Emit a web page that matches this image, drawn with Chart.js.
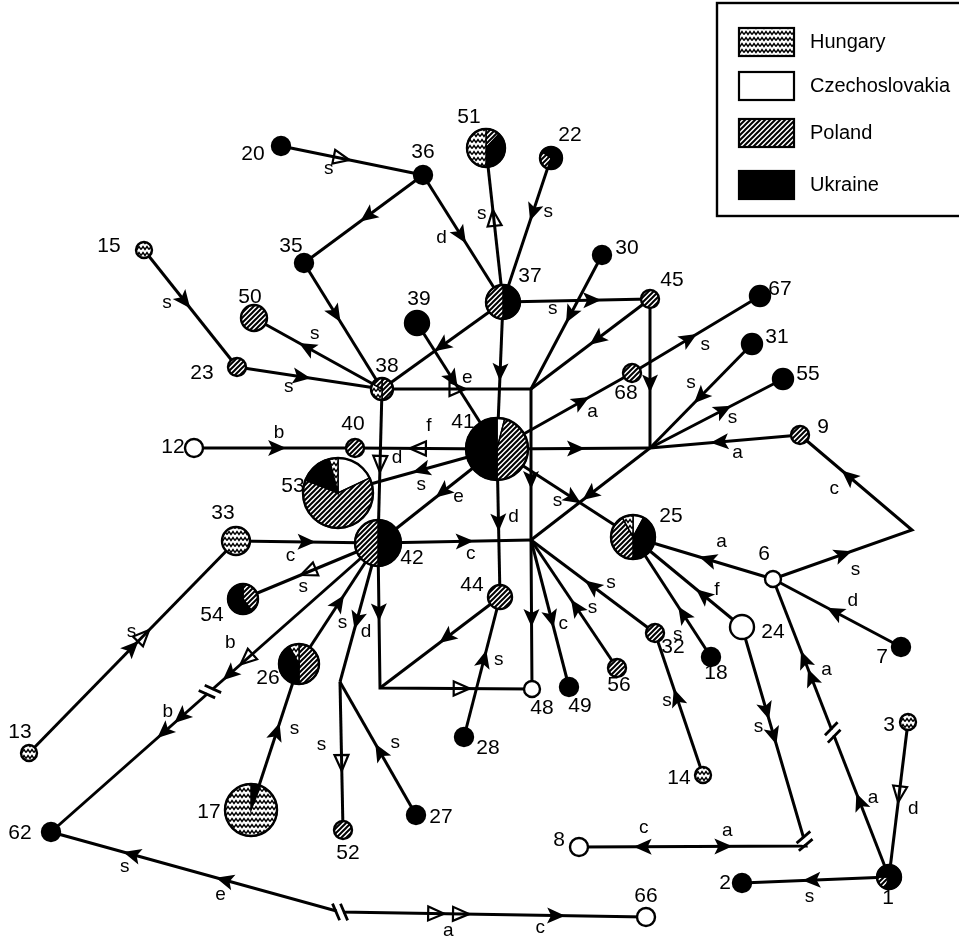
<!DOCTYPE html>
<html>
<head>
<meta charset="utf-8">
<script src="https://cdn.jsdelivr.net/npm/chart.js@4.4.1/dist/chart.umd.min.js"></script>
<style>
  html, body { margin: 0; padding: 0; background: #fff; }
  #wrap { width: 959px; height: 937px; position: relative; }
</style>
</head>
<body>
<div id="wrap"><canvas id="net"></canvas></div>
<script>
// countries shown in the legend, with the code used in nodeMix
const countries = ["Hungary", "Czechoslovakia", "Poland", "Ukraine"];
const countryCode = ["H", "C", "P", "U"];

// haplotype nodes
const nodeIds = ["1","2","3","6","7","8","9","12","13","14","15","17","18","20","22","23","24","25","26","27","28","30","31","32","33","35","36","37","38","39","40","41","42","44","45","48","49","50","51","52","53","54","55","56","62","66","67","68"];
const nodeX = [889,742,908,773,901,579,800,194,29,703,144,251,711,281,551,237,742,633,299,416,464,602,752,655,236,304,423,503,382,417,355,497,378,500,650,532,569,254,486,343,338,243,783,617,51,646,760,632];
const nodeY = [877,883,722,579,647,847,435,448,753,775,250,810,657,146,158,367,627,537,664,815,737,255,344,633,541,263,175,302,389,323,448,449,543,597,299,689,687,318,148,830,493,599,379,668,832,917,296,373];
const nodeSize = [12,9,8,8,9,9,9,9,8,8,8,26,9,9,11,9,12,22,20,9,9,9,10,9,14,9,9,17,11,12,9,31,23,12,9,8,9,13,19,9,35,15,10,9,9,9,10,9];
// share of each country, clockwise from 12 o'clock
const nodeMix = ["U55 P20 U25","U","H","C","U","C","P","C","H","H","H","U6 H94","U","U","U55 P30 U15","P","C","C8 U42 P42 H8","P50 U42 H8","U","U","U","U","P","H","U","U","U50 P50","P50 H33 P17","U","P","C4 P46 U50","U50 P50","P","P","C","U","P","P12 U38 H50","P","C18 P63 U15 H4","P40 U60","U","P","U","C","U","P"];

// unlabelled branch points
const junctions = {
  T: [531, 389], J2: [650, 448], J3: [531, 540], BL: [380, 688],
  K: [340, 682], R: [912, 530], B8: [806, 846], B62: [340, 912]
};

// branches: arrows are [t along path, direction, kind, letter, dx, dy]
const edges = [
  { path: ["20","36"], arrows: [[0.42,1,"o","s",-12,11]] },
  { path: ["36","35"], arrows: [[0.46,1,"f"]] },
  { path: ["36","37"], arrows: [[0.47,1,"f","d",-19,3]] },
  { path: ["35","38"], arrows: [[0.40,1,"f"]] },
  { path: ["15","23"], arrows: [[0.43,1,"f","s",-17,2]] },
  { path: ["23","38"], arrows: [[0.44,1,"f","s",-12,10]] },
  { path: ["38","50"], arrows: [[0.58,1,"f","s",7,-14]] },
  { path: ["37","38"], arrows: [[0.50,1,"f"]] },
  { path: ["39","41"], arrows: [[0.44,1,"f","e",15,-1]] },
  { path: ["38","T"], arrows: [[0.50,1,"o"]] },
  { path: ["37","41"], arrows: [[0.47,1,"f"]] },
  { path: ["37","51"], arrows: [[0.54,1,"o","s",-12,-5]] },
  { path: ["22","37"], arrows: [[0.37,1,"f","s",15,0]] },
  { path: ["37","45"], arrows: [[0.60,1,"f"]] },
  { path: ["30","T"], arrows: [[0.44,1,"f","s",-18,-5]] },
  { path: ["45","T"], arrows: [[0.44,1,"f"]] },
  { path: ["45","J2"], arrows: [[0.56,1,"f"]] },
  { path: ["T","J3","48"], arrows: [[0.30,1,"f"],[0.76,1,"f"]] },
  { path: ["41","J2"], arrows: [[0.51,1,"f"]] },
  { path: ["41","40"], arrows: [[0.55,1,"o","f",10,-23]] },
  { path: ["12","40"], arrows: [[0.51,1,"f","b",3,-15]] },
  { path: ["38","42"], arrows: [[0.48,1,"o","d",17,-5]] },
  { path: ["41","53"], arrows: [[0.47,1,"f","s",-1,15]] },
  { path: ["41","42"], arrows: [[0.45,1,"f","e",15,5]] },
  { path: ["41","68","67"], arrows: [[0.315,1,"f","a",12,10],[0.725,1,"f","s",17,6]] },
  { path: ["31","J2"], arrows: [[0.50,1,"f","s",-10,-13]] },
  { path: ["J2","55"], arrows: [[0.545,1,"f","s",10,7]] },
  { path: ["9","J2"], arrows: [[0.53,1,"f","a",17,11]] },
  { path: ["J2","J3"], arrows: [[0.50,1,"f"]] },
  { path: ["41","25"], arrows: [[0.555,1,"f","s",-15,3]] },
  { path: ["33","42"], arrows: [[0.49,1,"f","c",-15,14]] },
  { path: ["42","J3"], arrows: [[0.56,1,"f","c",7,12]] },
  { path: ["41","44"], arrows: [[0.49,1,"f","d",15,-5]] },
  { path: ["42","BL","48"], arrows: [[0.23,1,"f"],[0.76,1,"o"]] },
  { path: ["44","BL"], arrows: [[0.44,1,"f"]] },
  { path: ["28","44"], arrows: [[0.55,1,"f","s",15,0]] },
  { path: ["J3","49"], arrows: [[0.53,1,"f","c",12,6]] },
  { path: ["56","J3"], arrows: [[0.47,1,"f","s",16,0]] },
  { path: ["32","J3"], arrows: [[0.50,1,"f","s",18,-4]] },
  { path: ["6","25"], arrows: [[0.46,1,"f","a",13,-18]] },
  { path: ["24","25"], arrows: [[0.35,1,"f","f",13,-6]] },
  { path: ["18","25"], arrows: [[0.35,1,"f","s",-6,20]] },
  { path: ["14","32"], arrows: [[0.54,1,"f","s",-10,2]] },
  { path: ["7","6"], arrows: [[0.51,1,"f","d",17,-12]] },
  { path: ["6","R","9"], arrows: [[0.25,1,"f","s",13,15],[0.78,1,"f","c",-15,12]] },
  { path: ["1","6"], arrows: [[0.25,1,"f","a",13,-5],[0.667,1,"f","a",15,-8],[0.727,1,"f"]], breaks: [0.485] },
  { path: ["1","2"], arrows: [[0.52,1,"f","s",-3,17]] },
  { path: ["3","1"], arrows: [[0.46,1,"o","d",14,15]] },
  { path: ["24","B8","8"], arrows: [[0.19,1,"f"],[0.247,1,"f","s",-15,-8],[0.685,-1,"f","a",5,-16],[0.858,1,"f","c",0,-19]], breaks: [0.49] },
  { path: ["42","54"], arrows: [[0.51,1,"o","s",-6,15]] },
  { path: ["42","62"], arrows: [[0.40,1,"o","b",-17,-16],[0.452,1,"f"],[0.60,1,"f","b",-14,-5],[0.652,1,"f"]], breaks: [0.514] },
  { path: ["26","42"], arrows: [[0.50,1,"f","s",4,19]] },
  { path: ["42","K"], arrows: [[0.55,1,"f","d",9,12]] },
  { path: ["K","52"], arrows: [[0.54,1,"o","s",-20,-17]] },
  { path: ["27","K"], arrows: [[0.47,1,"f","s",15,-10]] },
  { path: ["17","26"], arrows: [[0.53,1,"f","s",18,-4]] },
  { path: ["13","33"], arrows: [[0.495,1,"f","s",0,-16],[0.55,1,"o"]] },
  { path: ["62","B62","66"], arrows: [[0.14,-1,"f","s",-8,12],[0.299,-1,"f","e",-5,14],[0.652,1,"o","a",13,17],[0.693,1,"o"],[0.85,1,"f","c",-15,12]], breaks: [0.495] }
];

// where each node number sits relative to its circle
const labelOffsets = {
  "1":[-1,21],"2":[-17,0],"3":[-19,3],"6":[-9,-25],"7":[-19,10],"8":[-20,-7],"9":[23,-8],"12":[-21,-1],
  "13":[-9,-21],"14":[-24,3],"15":[-35,-4],"17":[-42,2],"18":[5,16],"20":[-28,8],"22":[19,-23],"23":[-35,6],
  "24":[31,5],"25":[38,-21],"26":[-31,14],"27":[25,2],"28":[24,11],"30":[25,-7],"31":[25,-7],"32":[18,14],
  "33":[-13,-28],"35":[-13,-17],"36":[0,-23],"37":[27,-26],"38":[5,-23],"39":[2,-24],"40":[-2,-24],"41":[-34,-27],
  "42":[34,15],"44":[-28,-12],"45":[22,-19],"48":[10,19],"49":[11,19],"50":[-4,-21],"51":[-17,-31],"52":[5,23],
  "53":[-45,-7],"54":[-31,16],"55":[25,-5],"56":[2,17],"62":[-31,1],"66":[0,-21],"67":[20,-7],"68":[-6,20]
};

const FONT = '"Liberation Sans", Arial, sans-serif';

function pos(id) {
  const i = nodeIds.indexOf(id);
  return i >= 0 ? [nodeX[i], nodeY[i]] : junctions[id];
}

function parseMix(s) {
  return s.split(" ").map(function (p) {
    return [p[0], p.length > 1 ? Number(p.slice(1)) / 100 : 1];
  });
}

function patternCanvas(code) {
  const c = document.createElement("canvas");
  const g = c.getContext("2d");
  if (code === "P") {
    c.width = 5; c.height = 5;
    g.fillStyle = "#fff"; g.fillRect(0, 0, 5, 5);
    g.strokeStyle = "#000"; g.lineWidth = 2;
    g.beginPath();
    g.moveTo(-1, 6); g.lineTo(6, -1);
    g.moveTo(-1, 1); g.lineTo(1, -1);
    g.moveTo(4, 6); g.lineTo(6, 4);
    g.stroke();
  } else {
    c.width = 8; c.height = 6;
    g.fillStyle = "#fff"; g.fillRect(0, 0, 8, 6);
    g.strokeStyle = "#000"; g.lineWidth = 1.4;
    g.beginPath();
    g.moveTo(0, 4.5); g.lineTo(2, 1.5); g.lineTo(4, 4.5); g.lineTo(6, 1.5); g.lineTo(8, 4.5);
    g.stroke();
  }
  return c;
}
const patterns = { P: patternCanvas("P"), H: patternCanvas("H") };

function fillFor(g, code) {
  if (code === "U") return "#000";
  if (code === "C") return "#fff";
  return g.createPattern(patterns[code], "repeat");
}

// each node is a small pie drawn to a canvas and used as the point style
function nodeImage(r, mix) {
  const s = Math.ceil(2 * r + 6);
  const c = document.createElement("canvas");
  c.width = s; c.height = s;
  const g = c.getContext("2d");
  const m = s / 2;
  let a = -Math.PI / 2;
  mix.forEach(function (part) {
    const b = a + part[1] * 2 * Math.PI;
    g.beginPath();
    g.moveTo(m, m);
    g.arc(m, m, r, a, b);
    g.closePath();
    g.fillStyle = fillFor(g, part[0]);
    g.fill();
    if (mix.length > 1) {
      g.strokeStyle = "#000"; g.lineWidth = 1.5; g.stroke();
    }
    a = b;
  });
  g.beginPath();
  g.arc(m, m, r, 0, 2 * Math.PI);
  g.strokeStyle = "#000"; g.lineWidth = 2.4;
  g.stroke();
  return c;
}

const nodeImages = nodeIds.map(function (id, i) {
  return nodeImage(nodeSize[i], parseMix(nodeMix[i]));
});

function toPixels(chart, path) {
  const xs = chart.scales.x, ys = chart.scales.y;
  return path.map(function (id) {
    const p = pos(id);
    return { x: xs.getPixelForValue(p[0]), y: ys.getPixelForValue(p[1]) };
  });
}

function along(pts, t) {
  const seg = [];
  let total = 0;
  for (let i = 1; i < pts.length; i++) {
    const d = Math.hypot(pts[i].x - pts[i - 1].x, pts[i].y - pts[i - 1].y);
    seg.push(d); total += d;
  }
  let s = t * total;
  for (let i = 0; i < seg.length; i++) {
    if (s <= seg[i] || i === seg.length - 1) {
      const a = pts[i], b = pts[i + 1], f = s / seg[i];
      return { x: a.x + (b.x - a.x) * f, y: a.y + (b.y - a.y) * f, ang: Math.atan2(b.y - a.y, b.x - a.x) };
    }
    s -= seg[i];
  }
}

function drawArrow(ctx, p, dir, kind) {
  const ang = dir > 0 ? p.ang : p.ang + Math.PI;
  ctx.save();
  ctx.translate(p.x, p.y);
  ctx.rotate(ang);
  ctx.beginPath();
  if (kind === "o") {
    ctx.moveTo(9, 0); ctx.lineTo(-7, -7); ctx.lineTo(-7, 7); ctx.closePath();
    ctx.strokeStyle = "#000"; ctx.lineWidth = 2.2; ctx.lineJoin = "miter";
    ctx.stroke();
  } else {
    ctx.moveTo(10, 0); ctx.lineTo(-8, -8); ctx.lineTo(-4, 0); ctx.lineTo(-8, 8); ctx.closePath();
    ctx.fillStyle = "#000";
    ctx.fill();
  }
  ctx.restore();
}

function drawBreak(ctx, p) {
  const dx = Math.cos(p.ang), dy = Math.sin(p.ang);
  let tx = -dy + dx * 0.45, ty = dx + dy * 0.45;
  const n = Math.hypot(tx, ty); tx /= n; ty /= n;
  ctx.save();
  ctx.strokeStyle = "#fff"; ctx.lineWidth = 7; ctx.lineCap = "butt";
  ctx.beginPath();
  ctx.moveTo(p.x - dx * 3, p.y - dy * 3); ctx.lineTo(p.x + dx * 3, p.y + dy * 3);
  ctx.stroke();
  ctx.strokeStyle = "#000"; ctx.lineWidth = 2.8;
  ctx.beginPath();
  [-4, 4].forEach(function (o) {
    const cx = p.x + dx * o, cy = p.y + dy * o;
    ctx.moveTo(cx - tx * 9, cy - ty * 9); ctx.lineTo(cx + tx * 9, cy + ty * 9);
  });
  ctx.stroke();
  ctx.restore();
}

const decorPlugin = {
  id: "decor",
  afterDatasetsDraw: function (chart) {
    const ctx = chart.ctx;
    ctx.save();
    ctx.fillStyle = "#000";
    ctx.textAlign = "center";
    ctx.textBaseline = "middle";
    edges.forEach(function (e) {
      const pts = toPixels(chart, e.path);
      (e.breaks || []).forEach(function (t) { drawBreak(ctx, along(pts, t)); });
      e.arrows.forEach(function (a) {
        const p = along(pts, a[0]);
        drawArrow(ctx, p, a[1], a[2]);
        if (a[3]) {
          ctx.font = "19px " + FONT;
          ctx.fillStyle = "#000";
          ctx.fillText(a[3], p.x + a[4], p.y + a[5]);
        }
      });
    });
    // node numbers
    ctx.font = "21px " + FONT;
    const xs = chart.scales.x, ys = chart.scales.y;
    nodeIds.forEach(function (id, i) {
      const o = labelOffsets[id];
      ctx.fillText(id, xs.getPixelForValue(nodeX[i]) + o[0], ys.getPixelForValue(nodeY[i]) + o[1]);
    });
    ctx.restore();
  },
  afterDraw: function (chart) {
    const ctx = chart.ctx;
    ctx.save();
    ctx.strokeStyle = "#000";
    ctx.lineWidth = 2.4;
    ctx.fillStyle = "#fff";
    ctx.fillRect(717, 3, 260, 213);
    ctx.strokeRect(717, 3, 260, 213);
    const tops = [28, 72, 119, 171];
    countries.forEach(function (name, i) {
      ctx.fillStyle = fillFor(ctx, countryCode[i]);
      ctx.fillRect(739, tops[i], 55, 28);
      ctx.lineWidth = 2.2;
      ctx.strokeRect(739, tops[i], 55, 28);
      ctx.fillStyle = "#000";
      ctx.font = "20px " + FONT;
      ctx.textAlign = "left";
      ctx.textBaseline = "middle";
      ctx.fillText(name, 810, tops[i] + 14);
    });
    ctx.restore();
  }
};

const datasets = [{
  label: "haplotypes",
  data: nodeIds.map(function (id, i) { return { x: nodeX[i], y: nodeY[i] }; }),
  pointStyle: nodeImages,
  pointRadius: nodeSize,
  pointHoverRadius: nodeSize,
  showLine: false,
  clip: false,
  order: 0
}];
edges.forEach(function (e, k) {
  datasets.push({
    label: "branch " + k,
    data: e.path.map(function (id) { const p = pos(id); return { x: p[0], y: p[1] }; }),
    showLine: true,
    borderColor: "#000",
    borderWidth: 3,
    pointRadius: 0,
    pointHoverRadius: 0,
    tension: 0,
    fill: false,
    clip: false,
    order: 1
  });
});

new Chart(document.getElementById("net"), {
  type: "scatter",
  data: { datasets: datasets },
  options: {
    responsive: true,
    maintainAspectRatio: false,
    animation: false,
    devicePixelRatio: 1,
    layout: { padding: 0, autoPadding: false },
    plugins: { legend: { display: false }, tooltip: { enabled: false } },
    events: [],
    scales: {
      x: { type: "linear", min: 0, max: 959, display: false },
      y: { type: "linear", min: 0, max: 937, reverse: true, display: false }
    }
  },
  plugins: [decorPlugin]
});
</script>
</body>
</html>
